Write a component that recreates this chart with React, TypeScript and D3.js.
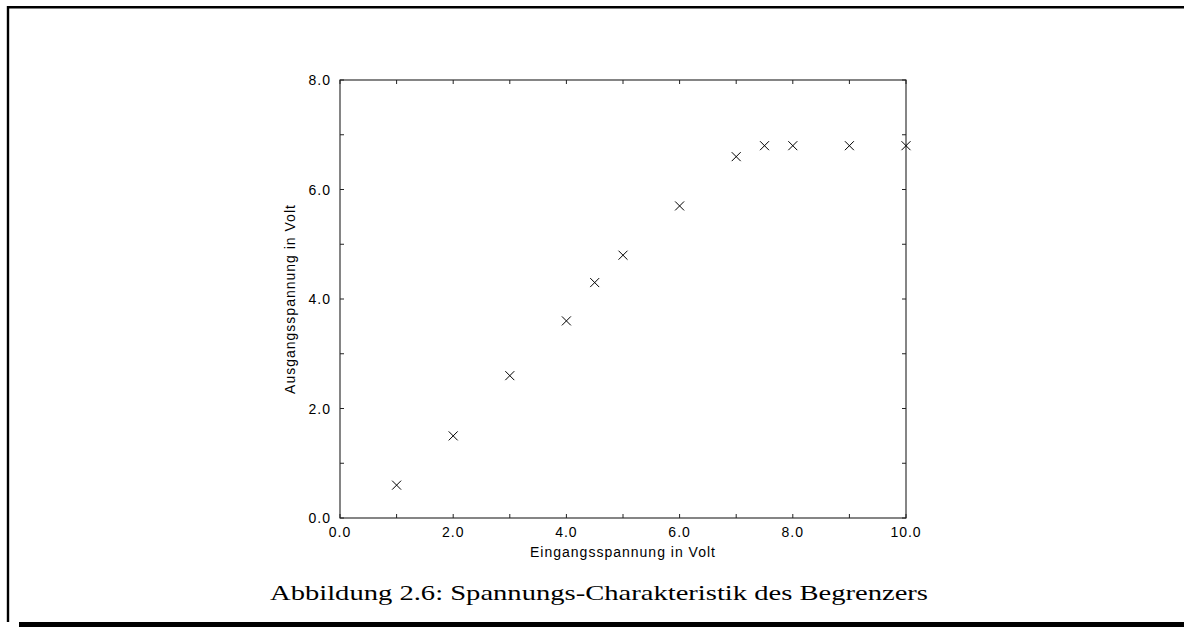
import React from "react";
import * as d3 from "d3";

// Measured input/output voltage pairs of the limiter circuit
const inputVolts = [1, 2, 3, 4, 4.5, 5, 6, 7, 7.5, 8, 9, 10];
const outputVolts = [0.6, 1.5, 2.6, 3.6, 4.3, 4.8, 5.7, 6.6, 6.8, 6.8, 6.8, 6.8];

const xDomain = [0, 10];
const yDomain = [0, 8];
const xTickValues = d3.range(0, 11, 1);
const yTickValues = d3.range(0, 9, 1);
const xLabelValues = [0, 2, 4, 6, 8, 10];
const yLabelValues = [0, 2, 4, 6, 8];

const xTitle = "Eingangsspannung in Volt";
const yTitle = "Ausgangsspannung in Volt";
const caption = "Abbildung 2.6: Spannungs-Charakteristik des Begrenzers";

const W = 1184;
const H = 627;
const plot = { left: 340, right: 906, top: 80, bottom: 518 };

export default function App() {
  const x = d3.scaleLinear().domain(xDomain).range([plot.left, plot.right]);
  const y = d3.scaleLinear().domain(yDomain).range([plot.bottom, plot.top]);
  const fmt = d3.format(".1f");
  const tick = 4;
  const cross = 4.5;
  const sans = "'Liberation Sans', Arial, Helvetica, sans-serif";

  return (
    <svg
      width={W}
      height={H}
      viewBox={`0 0 ${W} ${H}`}
      style={{ position: "absolute", left: 0, top: 0, display: "block", background: "#fff" }}
    >
      {/* page frame with shadowed bottom edge */}
      <line x1={7} y1={7.3} x2={W} y2={7.3} stroke="#000" strokeWidth={2.6} />
      <line x1={8} y1={6} x2={8} y2={622} stroke="#000" strokeWidth={2.4} />
      <rect x={19} y={622} width={W - 19} height={5} fill="#000" />

      {/* plot box */}
      <rect
        x={plot.left}
        y={plot.top}
        width={plot.right - plot.left}
        height={plot.bottom - plot.top}
        fill="none"
        stroke="#222"
        strokeWidth={1.1}
      />

      {/* inward ticks on all four sides */}
      {xTickValues.map((v) => (
        <g key={`xt${v}`} stroke="#222" strokeWidth={1}>
          <line x1={x(v)} x2={x(v)} y1={plot.bottom} y2={plot.bottom - tick} />
          <line x1={x(v)} x2={x(v)} y1={plot.top} y2={plot.top + tick} />
        </g>
      ))}
      {yTickValues.map((v) => (
        <g key={`yt${v}`} stroke="#222" strokeWidth={1}>
          <line x1={plot.left} x2={plot.left + tick} y1={y(v)} y2={y(v)} />
          <line x1={plot.right} x2={plot.right - tick} y1={y(v)} y2={y(v)} />
        </g>
      ))}

      {/* tick labels */}
      {xLabelValues.map((v) => (
        <text
          key={`xl${v}`}
          x={x(v)}
          y={537}
          textAnchor="middle"
          fontFamily={sans}
          fontSize={14}
          letterSpacing={1}
          fill="#000"
        >
          {fmt(v)}
        </text>
      ))}
      {yLabelValues.map((v) => (
        <text
          key={`yl${v}`}
          x={331}
          y={y(v) + 5}
          textAnchor="end"
          fontFamily={sans}
          fontSize={14}
          letterSpacing={1}
          fill="#000"
        >
          {fmt(v)}
        </text>
      ))}

      {/* axis titles */}
      <text
        x={(plot.left + plot.right) / 2}
        y={557}
        textAnchor="middle"
        fontFamily={sans}
        fontSize={14}
        letterSpacing={1}
        fill="#000"
      >
        {xTitle}
      </text>
      <text
        transform={`translate(295,${(plot.top + plot.bottom) / 2}) rotate(-90)`}
        textAnchor="middle"
        fontFamily={sans}
        fontSize={14}
        letterSpacing={1}
        fill="#000"
      >
        {yTitle}
      </text>

      {/* data points as crosses */}
      {inputVolts.map((v, i) => {
        const cx = x(v);
        const cy = y(outputVolts[i]);
        return (
          <path
            key={`p${i}`}
            d={`M${cx - cross},${cy - cross}L${cx + cross},${cy + cross}M${cx - cross},${cy + cross}L${cx + cross},${cy - cross}`}
            stroke="#000"
            strokeWidth={1}
            fill="none"
          />
        );
      })}

      {/* figure caption */}
      <text
        x={599}
        y={600}
        textAnchor="middle"
        fontFamily="'Liberation Serif', 'Times New Roman', serif"
        fontSize={21}
        textLength={658}
        lengthAdjust="spacingAndGlyphs"
        fill="#000"
      >
        {caption}
      </text>
    </svg>
  );
}
